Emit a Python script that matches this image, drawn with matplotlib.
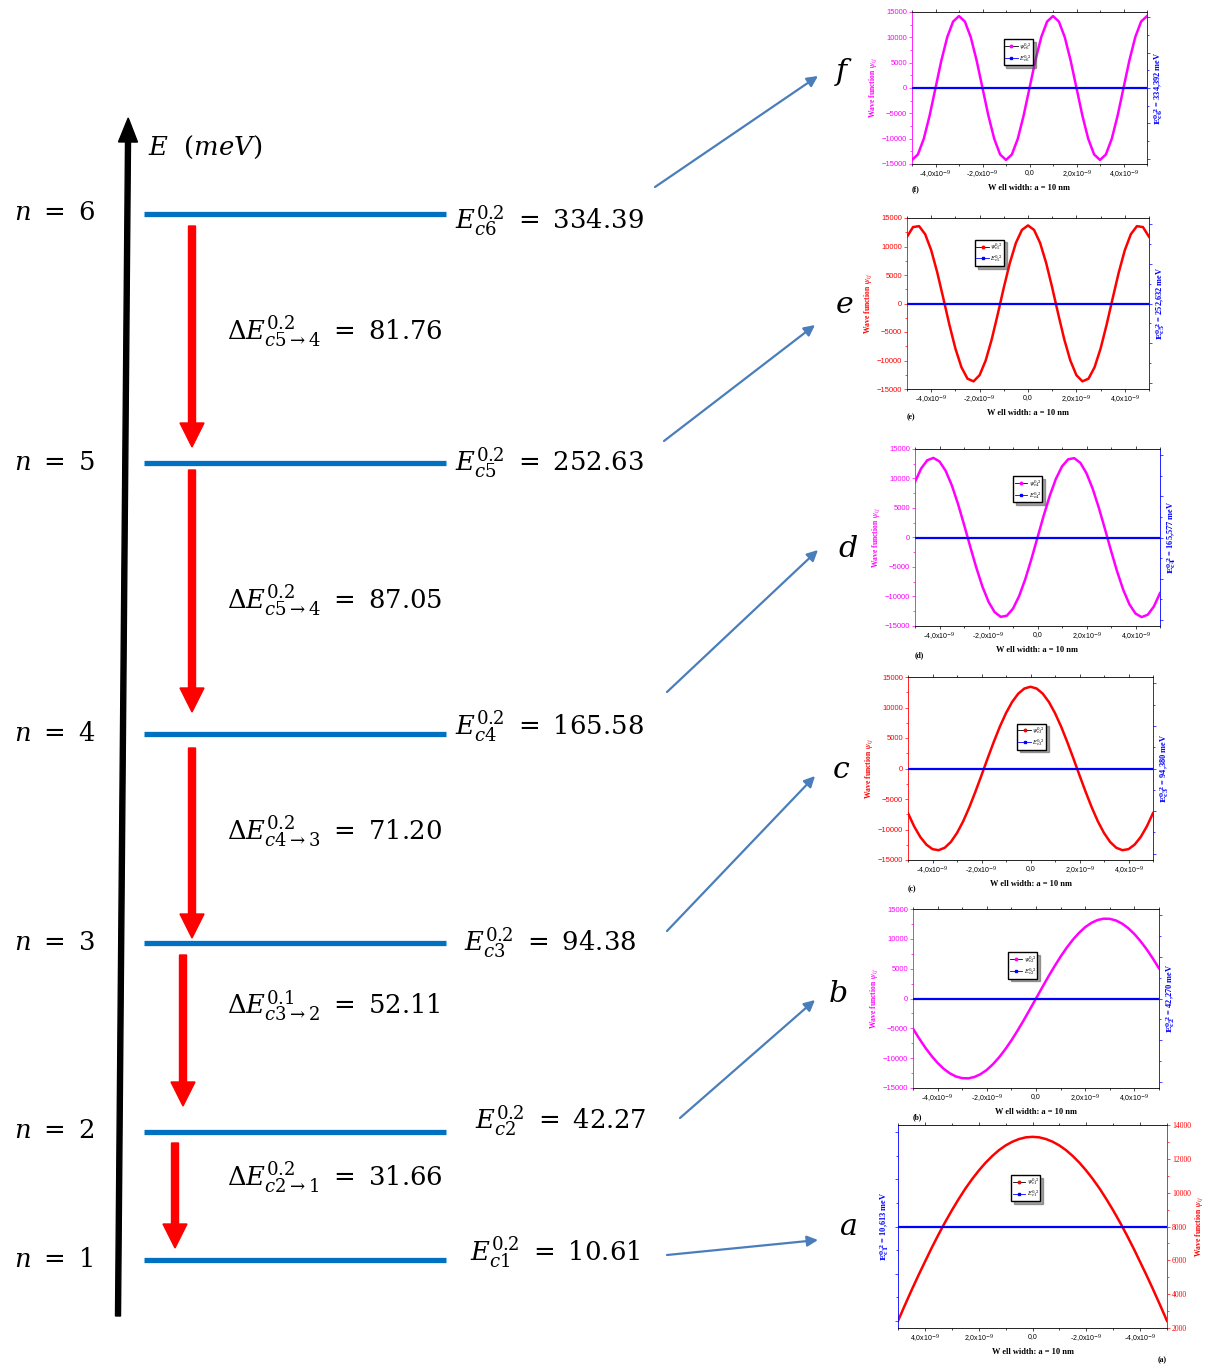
import numpy as np
import matplotlib.pyplot as plt
from matplotlib.lines import Line2D
from matplotlib.ticker import AutoMinorLocator, FuncFormatter

plt.rcParams['mathtext.fontset'] = 'dejavuserif'
plt.rcParams['font.family'] = ['Liberation Serif', 'DejaVu Serif']

W, H = 1224, 1365

# ---- data: energy levels (meV) ----
levels_n = [1, 2, 3, 4, 5, 6]
energies = [10.61, 42.27, 94.38, 165.58, 252.63, 334.39]
deltas = [31.66, 52.11, 71.20, 87.05, 81.76]
delta_supers = ['0.2', '0.1', '0.2', '0.2', '0.2']
delta_subs = [r'c2\rightarrow1', r'c3\rightarrow2', r'c4\rightarrow3',
              r'c5\rightarrow4', r'c5\rightarrow4']

# ---- data: wave functions in the small panels ----
panel_letters = ['a', 'b', 'c', 'd', 'e', 'f']
panel_energy_text = ['10,613', '42,270', '94,380', '165,577', '252,632', '334,392']
panel_colors = ['#FF0000', '#FF00FF', '#FF0000', '#FF00FF', '#FF0000', '#FF00FF']

well_x = [-5.0, -4.75, -4.5, -4.25, -4.0, -3.75, -3.5, -3.25, -3.0, -2.75, -2.5,
          -2.25, -2.0, -1.75, -1.5, -1.25, -1.0, -0.75, -0.5, -0.25, 0.0, 0.25,
          0.5, 0.75, 1.0, 1.25, 1.5, 1.75, 2.0, 2.25, 2.5, 2.75, 3.0, 3.25, 3.5,
          3.75, 4.0, 4.25, 4.5, 4.75, 5.0]

psi_a = [2420, 3330, 4220, 5080, 5910, 6730, 7510, 8250, 8950, 9610, 10230, 10790,
         11300, 11760, 12160, 12510, 12790, 13010, 13170, 13270, 13300, 13270, 13170,
         13010, 12790, 12510, 12160, 11760, 11300, 10790, 10230, 9610, 8950, 8250,
         7510, 6730, 5910, 5080, 4220, 3330, 2420]
psi_b = [-5050, -6700, -8240, -9600, -10800, -11790, -12550, -13080, -13350, -13380,
         -13150, -12670, -11960, -11010, -9860, -8520, -7020, -5380, -3650, -1840,
         0, 1840, 3650, 5380, 7020, 8520, 9860, 11010, 11960, 12670, 13150, 13380,
         13350, 13080, 12550, 11790, 10800, 9600, 8240, 6700, 5050]
psi_c = [-7320, -9480, -11220, -12480, -13220, -13390, -12990, -12040, -10570, -8670,
         -6380, -3820, -1110, 1660, 4350, 6870, 9080, 10910, 12270, 13110, 13400,
         13110, 12270, 10910, 9080, 6870, 4350, 1660, -1110, -3820, -6380, -8670,
         -10570, -12040, -12990, -13390, -13220, -12480, -11220, -9480, -7320]
psi_d = [9420, 11690, 13090, 13490, 12890, 11310, 8870, 5760, 2220, -1490, -5080,
         -8300, -10880, -12650, -13450, -13250, -12050, -9930, -7070, -3670, 0,
         3670, 7070, 9930, 12050, 13250, 13450, 12650, 10880, 8300, 5080, 1490,
         -2220, -5760, -8870, -11310, -12890, -13490, -13090, -11690, -9420]
psi_e = [11710, 13410, 13570, 12160, 9350, 5450, 930, -3690, -7900, -11190, -13190,
         -13660, -12570, -10010, -6310, -1870, 2790, 7120, 10630, 12910, 13700,
         12910, 10630, 7120, 2790, -1870, -6310, -10010, -12570, -13660, -13190,
         -11190, -7900, -3690, 930, 5450, 9350, 12160, 13570, 13410, 11710]
psi_f = [-14200, -13120, -10040, -5440, 0, 5440, 10040, 13120, 14200, 13120, 10040,
         5440, 0, -5440, -10040, -13120, -14200, -13120, -10040, -5440, 0, 5440,
         10040, 13120, 14200, 13120, 10040, 5440, 0, -5440, -10040, -13120, -14200,
         -13120, -10040, -5440, 0, 5440, 10040, 13120, 14200]
psi_all = [psi_a, psi_b, psi_c, psi_d, psi_e, psi_f]

# ---- layout (pixels) ----
level_y = [1260, 1132, 943, 734, 463, 214]
e_label_xy = [(470, 1252), (475, 1121), (464, 943), (455, 726), (455, 463), (455, 221)]
delta_label_y = [1177, 1006, 831, 600, 331]
red_arrows = [(175, 1143, 1248), (183, 955, 1106), (192, 748, 938),
              (192, 470, 712), (192, 226, 447)]
connectors = [((667, 1255), (818, 1240), (839, 1228)),
              ((680, 1118), (815, 1000), (828, 995)),
              ((667, 931), (815, 776), (832, 771)),
              ((667, 692), (818, 550), (838, 550)),
              ((664, 441), (815, 325), (835, 306)),
              ((655, 187), (818, 76), (834, 72))]
panel_boxes = [(898, 1125, 1167, 1328), (913, 909, 1159, 1088),
               (908, 677, 1153, 860), (915, 449, 1160, 626),
               (907, 218, 1149, 389), (912, 12, 1147, 164)]
legend_anchor = [(0.42, 0.754), (0.386, 0.757), (0.444, 0.745),
                 (0.40, 0.845), (0.28, 0.873), (0.39, 0.82)]

fig = plt.figure(figsize=(W / 100, H / 100), dpi=100)
ax0 = fig.add_axes([0, 0, 1, 1])
ax0.set_xlim(0, W)
ax0.set_ylim(H, 0)
ax0.axis('off')

BIG = 18.6

# energy axis
ax0.arrow(118, 1316, 10, -1174, width=5, head_width=19, head_length=24,
          length_includes_head=False, color='black')
ax0.text(148, 147, r'$E\ \ (meV)$', fontsize=BIG, va='center', ha='left')

for i, n in enumerate(levels_n):
    y = level_y[i]
    ax0.plot([144, 446], [y, y], color='#0070C0', lw=3.8, solid_capstyle='butt')
    ax0.text(14, y, r'$n\ =\ %d$' % n, fontsize=BIG, va='center', ha='left')
    ex, ey = e_label_xy[i]
    ax0.text(ex, ey, r'$E_{c%d}^{0.2}\ =\ %.2f$' % (n, energies[i]),
             fontsize=BIG, va='center', ha='left')

for i, d in enumerate(deltas):
    ax0.text(227, delta_label_y[i],
             r'$\Delta E_{%s}^{%s}\ =\ %.2f$' % (delta_subs[i], delta_supers[i], d),
             fontsize=BIG, va='center', ha='left')
    x, y0, y1 = red_arrows[i]
    ax0.arrow(x, y0, 0, y1 - y0, width=7, head_width=24, head_length=24,
              length_includes_head=True, color='#FF0000')

for i, (start, end, lxy) in enumerate(connectors):
    ax0.annotate('', xy=end, xytext=start,
                 arrowprops=dict(arrowstyle='-|>', color='#4A7EBB', lw=1.6,
                                 mutation_scale=16, shrinkA=0, shrinkB=0))
    ax0.text(lxy[0], lxy[1], r'$%s$' % panel_letters[i], fontsize=BIG + 3,
             va='center', ha='left')


def x_fmt(v, pos):
    if abs(v) < 1e-9:
        return '0,0'
    return ('%.1f' % v).replace('.', ',') + r'x10$^{-9}$'


for i in range(6):
    l, t, r, b = panel_boxes[i]
    color = panel_colors[i]
    n = levels_n[i]
    mirrored = (i == 0)
    ax = fig.add_axes([l / W, 1 - b / H, (r - l) / W, (b - t) / H])
    ax.plot(well_x, psi_all[i], color=color, lw=1.8, solid_joinstyle='round')
    if mirrored:
        ax.set_xlim(5, -5)
        ax.set_ylim(2000, 14000)
        ax.set_yticks(range(2000, 14001, 2000))
    else:
        ax.set_xlim(-5, 5)
        ax.set_ylim(-15000, 15000)
        ax.set_yticks(range(-15000, 15001, 5000))
    ax.set_xticks([-4, -2, 0, 2, 4])
    ax.xaxis.set_major_formatter(FuncFormatter(x_fmt))
    ax.xaxis.set_minor_locator(AutoMinorLocator(2))
    ax.yaxis.set_minor_locator(AutoMinorLocator(2))
    ax.tick_params(axis='x', labelsize=5, length=2, width=0.5, pad=1.5,
                   top=True, which='both')
    ax.tick_params(axis='x', which='minor', length=1.2)
    ax.tick_params(axis='y', labelsize=5.5, length=2, width=0.5, pad=1.5,
                   colors=color, which='both')
    ax.tick_params(axis='y', which='minor', length=1.2)
    for lab in ax.get_xticklabels() + ax.get_yticklabels():
        lab.set_family('Liberation Sans')
    ax.set_xlabel('W ell width: a = 10 nm', fontsize=6, fontweight='bold', labelpad=2)
    ylab = r'Wave function $\psi_{ij}$'

    E = energies[i]
    ax2 = ax.twinx()
    ax2.plot(well_x, [E] * len(well_x), color='#0000FF', lw=1.6)
    ax2.set_ylim(E - 1, E + 1)
    ax2.set_yticks([E - 0.93, E - 0.465, E, E + 0.465, E + 0.93])
    ax2.yaxis.set_minor_locator(AutoMinorLocator(2))
    ax2.tick_params(axis='y', colors='#0000FF', labelleft=False, labelright=False,
                    length=2, width=0.5, which='both')
    ax2.tick_params(axis='y', which='minor', length=1.2)
    blab = r'$\mathbf{E^{0.2}_{c%d}}$ = %s meV' % (n, panel_energy_text[i])

    for sp in ax.spines.values():
        sp.set_linewidth(0.6)
    for sp in ax2.spines.values():
        sp.set_visible(False)

    if mirrored:
        ax.yaxis.tick_right()
        ax.yaxis.set_label_position('right')
        ax2.yaxis.tick_left()
        ax2.yaxis.set_label_position('left')
        ax.spines['right'].set_color(color)
        ax.spines['left'].set_color('#0000FF')
        ax.text(1.0, -0.14, '(a)', transform=ax.transAxes, fontsize=5.5,
                fontweight='bold', ha='right', va='top')
    else:
        ax.spines['left'].set_color(color)
        ax.spines['right'].set_color('#0000FF')
        ax.text(0.0, -0.14, '(%s)' % panel_letters[i], transform=ax.transAxes,
                fontsize=5.5, fontweight='bold', ha='left', va='top')
    ax.set_ylabel(ylab, color=color, fontsize=5.5, fontweight='bold', labelpad=2)
    ax2.set_ylabel(blab, color='#0000FF', fontsize=6, fontweight='bold', labelpad=2)

    handles = [Line2D([0], [0], color='black', lw=0.6, marker='o', ms=1.8,
                      markerfacecolor=color, markeredgecolor=color),
               Line2D([0], [0], color='#0000FF', lw=0.6, marker='s', ms=1.8)]
    labels = [r'$\psi^{0.2}_{c%d}$' % n, r'$E^{0.2}_{c%d}$' % n]
    ax2.legend(handles, labels, loc='upper left', bbox_to_anchor=legend_anchor[i],
               fontsize=4, frameon=True, fancybox=False, shadow=True,
               edgecolor='black', handlelength=2.2, borderpad=0.3,
               labelspacing=0.2, handletextpad=0.3, borderaxespad=0)

fig.savefig('out.png', dpi=100)
